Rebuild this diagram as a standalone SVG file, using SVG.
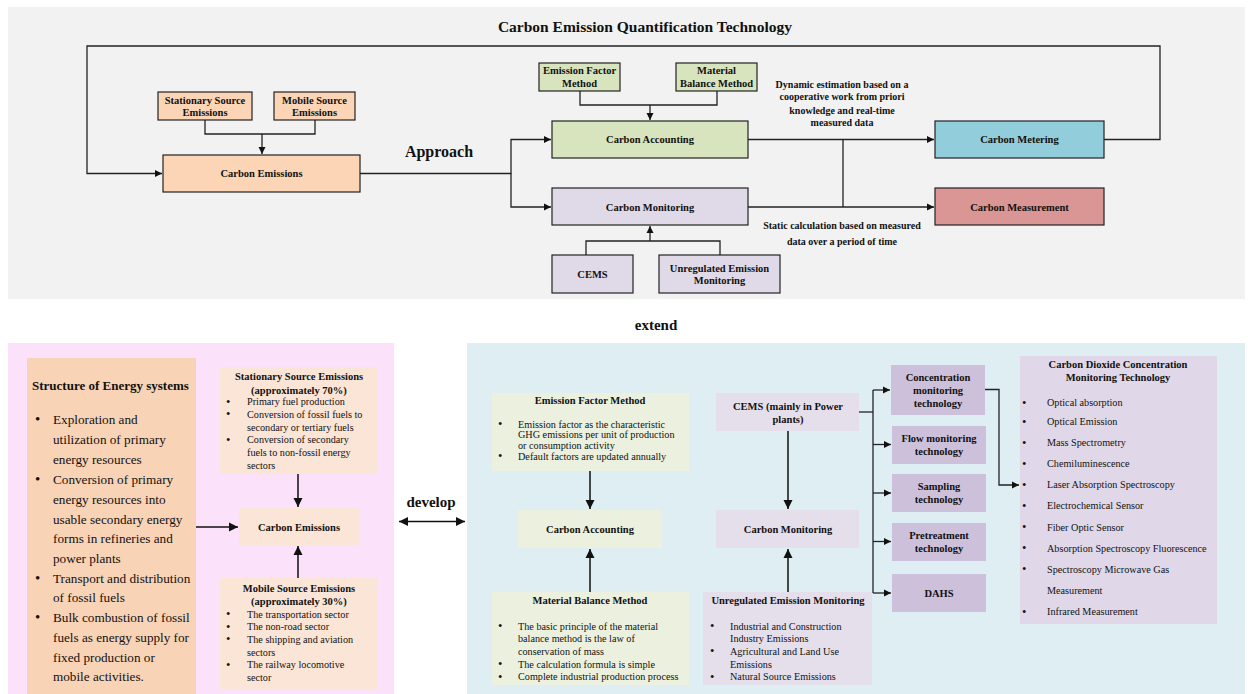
<svg xmlns="http://www.w3.org/2000/svg" width="1248" height="694" viewBox="0 0 1248 694">
<style>
text{font-family:"Liberation Serif","Times New Roman",serif;fill:#111}
.b{font-weight:bold}
.t15{font-size:15.5px;font-weight:bold}
.n{font-size:10.5px;font-weight:bold}
.s{font-size:10.2px}
.big{font-size:13.2px}
.c{text-anchor:middle}
.d{font-size:12.5px}
.D{font-size:15px}
.nb{stroke:#222;stroke-width:1.2}
.ln{fill:none;stroke:#222;stroke-width:1.3}
.ln2{fill:none;stroke:#111;stroke-width:1.5}
</style>
<defs>
<marker id="a" markerUnits="userSpaceOnUse" markerWidth="8" markerHeight="8" refX="7" refY="4" orient="auto"><path d="M0,0.5 L7,4 L0,7.5 z" fill="#111"/></marker>
<marker id="A" markerUnits="userSpaceOnUse" markerWidth="10" markerHeight="10" refX="9" refY="5" orient="auto"><path d="M0,0.5 L9,5 L0,9.5 z" fill="#111"/></marker>
<marker id="As" markerUnits="userSpaceOnUse" markerWidth="10" markerHeight="10" refX="0" refY="5" orient="auto"><path d="M9,0.5 L0,5 L9,9.5 z" fill="#111"/></marker>
</defs>

<!-- panels -->
<rect x="8" y="7" width="1237" height="292" fill="#f2f2f2"/>
<rect x="8" y="343" width="386" height="351" fill="#fce1fb"/>
<rect x="467" y="343" width="778" height="351" fill="#dfeef3"/>

<text x="645" y="32" class="t15 c">Carbon Emission Quantification Technology</text>
<text x="439" y="157" class="c b" style="font-size:16px">Approach</text>
<text x="656" y="330" class="c b" style="font-size:15px">extend</text>
<text x="431" y="507" class="c b" style="font-size:15px">develop</text>
<text x="842" y="87.5" class="c n" style="font-size:10px">Dynamic estimation based on a</text>
<text x="842" y="100.2" class="c n" style="font-size:10px">cooperative work from priori</text>
<text x="842" y="113.5" class="c n" style="font-size:10px">knowledge and real-time</text>
<text x="842" y="126" class="c n" style="font-size:10px">measured data</text>
<text x="842" y="228.5" class="c n" style="font-size:10px">Static calculation based on measured</text>
<text x="842" y="245.2" class="c n" style="font-size:10px">data over a period of time</text>

<!-- connectors -->
<g id="connectors">
<path class="ln" d="M1104,139.5 H1160 V46 H87 V173.5 H162" marker-end="url(#a)"/>
<path class="ln" d="M205,120 V134 H315 V120"/>
<path class="ln" d="M262,134 V154" marker-end="url(#a)"/>
<path class="ln" d="M360,173.5 H511 V139.5 H551" marker-end="url(#a)"/>
<path class="ln" d="M511,173.5 V207 H551" marker-end="url(#a)"/>
<path class="ln" d="M580,91 V105 H717 V91"/>
<path class="ln" d="M650,105 V120" marker-end="url(#a)"/>
<path class="ln" d="M586,255 V241 H720 V255"/>
<path class="ln" d="M650,241 V226" marker-end="url(#a)"/>
<path class="ln" d="M748,139.5 H934" marker-end="url(#a)"/>
<path class="ln" d="M748,207 H934" marker-end="url(#a)"/>
<path class="ln" d="M843,139.5 V207"/>

<path class="ln2" d="M196,527 H238" marker-end="url(#A)"/>
<path class="ln2" d="M298,474 V507" marker-end="url(#A)"/>
<path class="ln2" d="M298,578 V546" marker-end="url(#A)"/>
<path class="ln2" d="M399,521.5 H465" marker-start="url(#As)" marker-end="url(#A)"/>
<path class="ln2" d="M590,471 V509" marker-end="url(#A)"/>
<path class="ln2" d="M590,592 V549" marker-end="url(#A)"/>
<path class="ln2" d="M788,431 V509" marker-end="url(#A)"/>
<path class="ln2" d="M788,592 V549" marker-end="url(#A)"/>
<path class="ln" d="M859,412 H873"/>
<path class="ln" d="M873,390 V593"/>
<path class="ln" d="M873,390 H890" marker-end="url(#a)"/>
<path class="ln" d="M873,444.5 H891" marker-end="url(#a)"/>
<path class="ln" d="M873,493 H891" marker-end="url(#a)"/>
<path class="ln" d="M873,541.5 H891" marker-end="url(#a)"/>
<path class="ln" d="M873,593 H891" marker-end="url(#a)"/>
<path class="ln" d="M985,389.5 H999 V485 H1019" marker-end="url(#a)"/>
</g>

<!-- top nodes -->
<g id="top-stationary"><rect x="158" y="92" width="94" height="28" fill="#fbd5b5" class="nb"/>
<text x="205" y="103.7" class="c n">Stationary Source</text><text x="205" y="116" class="c n">Emissions</text></g>
<g id="top-mobile"><rect x="274" y="92" width="81" height="28" fill="#fbd5b5" class="nb"/>
<text x="314.5" y="103.7" class="c n">Mobile Source</text><text x="314.5" y="116" class="c n">Emissions</text></g>
<g id="top-emissions"><rect x="163" y="155" width="197" height="37" fill="#fbd5b5" class="nb"/>
<text x="261.5" y="177" class="c n">Carbon Emissions</text></g>
<g id="top-efm"><rect x="539" y="63" width="81" height="28" fill="#d7e4bd" class="nb"/>
<text x="579.5" y="74.2" class="c n">Emission Factor</text><text x="579.5" y="86.5" class="c n">Method</text></g>
<g id="top-mbm"><rect x="676" y="63" width="81" height="28" fill="#d7e4bd" class="nb"/>
<text x="716.5" y="74.2" class="c n">Material</text><text x="716.5" y="86.5" class="c n">Balance Method</text></g>
<g id="top-accounting"><rect x="552" y="121" width="196" height="37" fill="#d7e4bd" class="nb"/>
<text x="650" y="143" class="c n">Carbon Accounting</text></g>
<g id="top-monitoring"><rect x="552" y="188" width="196" height="37" fill="#e0d9e8" class="nb"/>
<text x="650" y="210.5" class="c n">Carbon Monitoring</text></g>
<g id="top-cems"><rect x="552" y="255" width="81" height="38" fill="#e0d9e8" class="nb"/>
<text x="592.5" y="277.5" class="c n">CEMS</text></g>
<g id="top-unreg"><rect x="659" y="255" width="121" height="38" fill="#e0d9e8" class="nb"/>
<text x="719.5" y="271.5" class="c n">Unregulated Emission</text><text x="719.5" y="284" class="c n">Monitoring</text></g>
<g id="top-metering"><rect x="935" y="121" width="169" height="37" fill="#92cddc" class="nb"/>
<text x="1019.5" y="143" class="c n">Carbon Metering</text></g>
<g id="top-measurement"><rect x="935" y="188" width="169" height="37" fill="#d99694" class="nb"/>
<text x="1019.5" y="210.5" class="c n">Carbon Measurement</text></g>

<!-- bottom left -->
<g id="energy-structure"><rect x="27" y="358" width="169" height="336" fill="#f9d3b5"/>
<text x="32" y="389.5" class="b" style="font-size:13px">Structure of Energy systems</text>
<g class="big">
<text x="35" y="424" class="D">•</text>
<text x="53" y="423.5">Exploration and</text>
<text x="53" y="443.5">utilization of primary</text>
<text x="53" y="463.5">energy resources</text>
<text x="35" y="484" class="D">•</text>
<text x="53" y="483.5">Conversion of primary</text>
<text x="53" y="503.5">energy resources into</text>
<text x="53" y="523.5">usable secondary energy</text>
<text x="53" y="543">forms in refineries and</text>
<text x="53" y="562.5">power plants</text>
<text x="35" y="583" class="D">•</text>
<text x="53" y="582.5">Transport and distribution</text>
<text x="53" y="602">of fossil fuels</text>
<text x="35" y="622" class="D">•</text>
<text x="53" y="621.5">Bulk combustion of fossil</text>
<text x="53" y="641.5">fuels as energy supply for</text>
<text x="53" y="661.5">fixed production or</text>
<text x="53" y="681">mobile activities.</text>
</g></g>

<g id="bottom-stationary"><rect x="220" y="367" width="158" height="107" fill="#fbe5d6"/>
<text x="299" y="380" class="c n">Stationary Source Emissions</text>
<text x="299" y="393.5" class="c n">(approximately 70%)</text>
<g class="s">
<text x="226" y="405.7" class="d">•</text><text x="247" y="405.2">Primary fuel production</text>
<text x="226" y="418.3" class="d">•</text><text x="247" y="417.8">Conversion of fossil fuels to</text>
<text x="247" y="430.5">secondary or tertiary fuels</text>
<text x="226" y="443.7" class="d">•</text><text x="247" y="443.2">Conversion of secondary</text>
<text x="247" y="455.8">fuels to non-fossil energy</text>
<text x="247" y="468.5">sectors</text>
</g></g>

<g id="bottom-emissions"><rect x="239" y="508" width="120" height="37" fill="#fbe5d6"/>
<text x="299" y="530.5" class="c n">Carbon Emissions</text></g>

<g id="bottom-mobile"><rect x="220" y="578" width="158" height="111" fill="#fbe5d6"/>
<text x="299" y="592" class="c n">Mobile Source Emissions</text>
<text x="299" y="605.2" class="c n">(approximately 30%)</text>
<g class="s">
<text x="226" y="618" class="d">•</text><text x="247" y="617.5">The transportation sector</text>
<text x="226" y="630.7" class="d">•</text><text x="247" y="630.2">The non-road sector</text>
<text x="226" y="643.3" class="d">•</text><text x="247" y="642.8">The shipping and aviation</text>
<text x="247" y="655.5">sectors</text>
<text x="226" y="668.7" class="d">•</text><text x="247" y="668.2">The railway locomotive</text>
<text x="247" y="680.8">sector</text>
</g></g>

<!-- bottom right -->
<g id="efm"><rect x="492" y="393" width="197" height="78" fill="#ebf1de"/>
<text x="590" y="403.5" class="c n">Emission Factor Method</text>
<g class="s">
<text x="498" y="428" class="d">•</text><text x="518" y="427.5">Emission factor as the characteristic</text>
<text x="518" y="438.2">GHG emissions per unit of production</text>
<text x="518" y="448.8">or consumption activity</text>
<text x="498" y="460" class="d">•</text><text x="518" y="459.5">Default factors are updated annually</text>
</g></g>

<g id="accounting"><rect x="518" y="510" width="144" height="38" fill="#ebf1de"/>
<text x="590" y="532.5" class="c n">Carbon Accounting</text></g>

<g id="mbm"><rect x="492" y="592" width="197" height="93" fill="#ebf1de"/>
<text x="590" y="604" class="c n">Material Balance Method</text>
<g class="s">
<text x="498" y="630" class="d">•</text><text x="518" y="629.5">The basic principle of the material</text>
<text x="518" y="642.2">balance method is the law of</text>
<text x="518" y="654.8">conservation of mass</text>
<text x="498" y="668" class="d">•</text><text x="518" y="667.5">The calculation formula is simple</text>
<text x="498" y="680.7" class="d">•</text><text x="518" y="680.2">Complete industrial production process</text>
</g></g>

<g id="cems"><rect x="716" y="393" width="143" height="38" fill="#e5dfec"/>
<text x="788" y="409.5" class="c n">CEMS (mainly in Power</text>
<text x="788" y="422.5" class="c n">plants)</text></g>

<g id="monitoring"><rect x="716" y="510" width="143" height="38" fill="#e5dfec"/>
<text x="788" y="532.5" class="c n">Carbon Monitoring</text></g>

<g id="unreg"><rect x="703" y="592" width="169" height="93" fill="#e5dfec"/>
<text x="788" y="604" class="c n">Unregulated Emission Monitoring</text>
<g class="s">
<text x="710" y="630" class="d">•</text><text x="730" y="629.5">Industrial and Construction</text>
<text x="730" y="642.2">Industry Emissions</text>
<text x="710" y="655.3" class="d">•</text><text x="730" y="654.8">Agricultural and Land Use</text>
<text x="730" y="667.5">Emissions</text>
<text x="710" y="680.7" class="d">•</text><text x="730" y="680.2">Natural Source Emissions</text>
</g></g>

<g id="conc"><rect x="891" y="365" width="94" height="50" fill="#ccc0da"/>
<text x="938" y="380.5" class="c n">Concentration</text>
<text x="938" y="393.5" class="c n">monitoring</text>
<text x="938" y="406.5" class="c n">technology</text></g>
<g id="flow"><rect x="892" y="426" width="94" height="38" fill="#ccc0da"/>
<text x="939" y="441.5" class="c n">Flow monitoring</text>
<text x="939" y="454.5" class="c n">technology</text></g>
<g id="sampling"><rect x="892" y="474" width="94" height="38" fill="#ccc0da"/>
<text x="939" y="490" class="c n">Sampling</text>
<text x="939" y="503" class="c n">technology</text></g>
<g id="pretreat"><rect x="892" y="523" width="94" height="38" fill="#ccc0da"/>
<text x="939" y="538.5" class="c n">Pretreatment</text>
<text x="939" y="551.5" class="c n">technology</text></g>
<g id="dahs"><rect x="892" y="574" width="94" height="38" fill="#ccc0da"/>
<text x="939" y="596.5" class="c n">DAHS</text></g>

<g id="co2"><rect x="1020" y="356" width="197" height="268" fill="#e0d8e8"/>
<text x="1118" y="368" class="c n">Carbon Dioxide Concentration</text>
<text x="1118" y="380.5" class="c n">Monitoring Technology</text>
<g class="s">
<text x="1022" y="406.5" class="d">•</text><text x="1047" y="406">Optical absorption</text>
<text x="1022" y="425.5" class="d">•</text><text x="1047" y="425">Optical Emission</text>
<text x="1022" y="446.5" class="d">•</text><text x="1047" y="446">Mass Spectrometry</text>
<text x="1022" y="467.5" class="d">•</text><text x="1047" y="467">Chemiluminescence</text>
<text x="1022" y="488.8" class="d">•</text><text x="1047" y="488.3">Laser Absorption Spectroscopy</text>
<text x="1022" y="509.8" class="d">•</text><text x="1047" y="509.3">Electrochemical Sensor</text>
<text x="1022" y="531.1" class="d">•</text><text x="1047" y="530.6">Fiber Optic Sensor</text>
<text x="1022" y="552.1" class="d">•</text><text x="1047" y="551.6">Absorption Spectroscopy Fluorescence</text>
<text x="1022" y="573.1" class="d">•</text><text x="1047" y="572.6">Spectroscopy Microwave Gas</text>
<text x="1047" y="593.6">Measurement</text>
<text x="1022" y="615.5" class="d">•</text><text x="1047" y="615">Infrared Measurement</text>
</g></g>
</svg>
